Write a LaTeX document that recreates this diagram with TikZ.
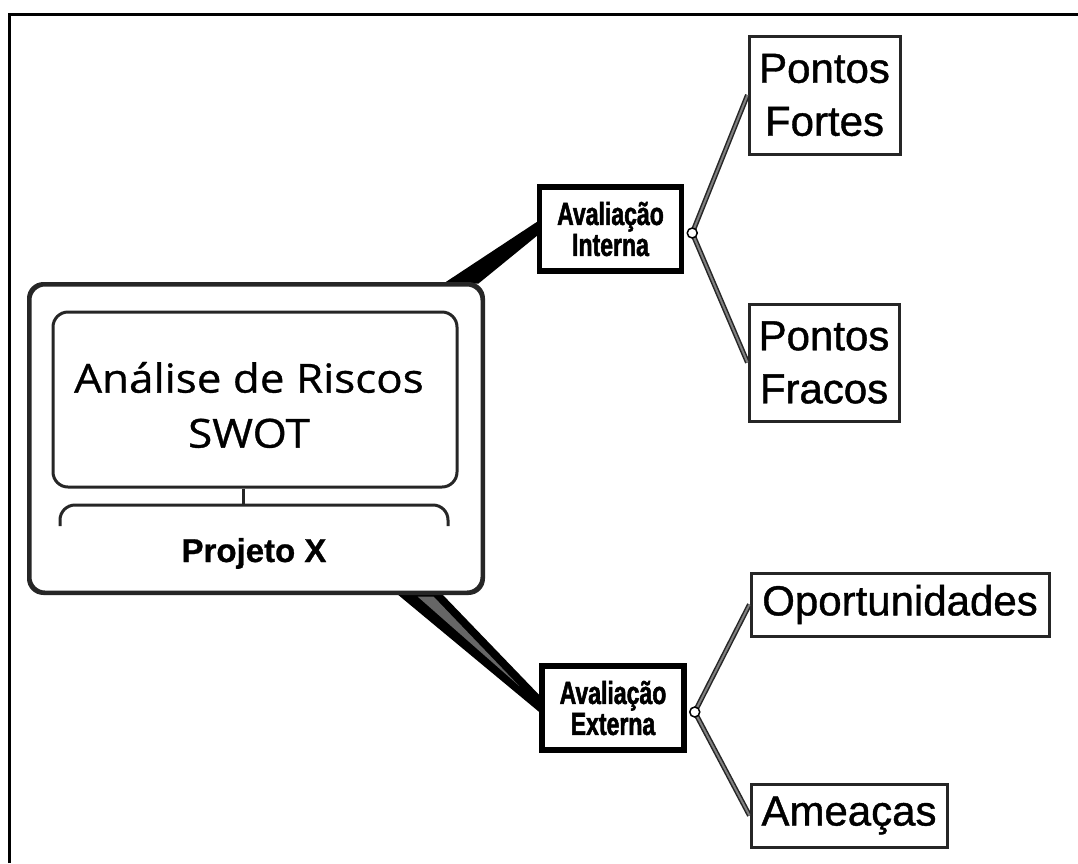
\documentclass[tikz,border=0pt]{standalone}
\usepackage{fontspec}
\setmainfont{Liberation Sans}
\newfontfamily\titlefont[FakeStretch=1.1,FakeBold=0.8]{Open Sans}
\newfontfamily\leaffont[FakeBold=1]{Liberation Sans}
\newfontfamily\projfont[FakeBold=0.8]{Liberation Sans}
\newfontfamily\narrowfont[FakeStretch=0.72,FakeBold=1.6]{Liberation Sans}
\usetikzlibrary{calc}
\begin{document}
\begin{tikzpicture}[x=1pt,y=-1pt,
  leaf/.style={draw=black!85,line width=3pt,fill=white,inner sep=0pt,align=center,
    font=\leaffont\fontsize{42}{53}\selectfont},
  evalbox/.style={draw=black,line width=5.5pt,fill=white,inner sep=0pt,align=center,
    minimum width=142pt,minimum height=84pt,
    font=\narrowfont\bfseries\fontsize{32}{31}\selectfont},
  roundbox/.style={draw=black!85,line width=3pt,rounded corners=15pt,fill=white,inner sep=0pt},
  wedge/.style={fill=black},
  twigout/.style={draw=black!85,line width=5pt},
  twigin/.style={draw=black!50,line width=2pt},
  joint/.style={circle,draw=black,line width=1.5pt,fill=white,inner sep=0pt,minimum size=10pt}
]
\useasboundingbox (0,0) rectangle (1078,863);
\fill[white] (0,0) rectangle (1078,863);
% frame
\draw[line width=3pt] (9,863) -- (9,14) -- (1078,14);

% evaluation boxes
\node[evalbox] (ai) at (610.5,229) {Avaliação\\Interna};
\node[evalbox] (ae) at (613,708) {Avaliação\\Externa};

% main box
\node[roundbox,minimum width=452pt,minimum height=307pt] (main) at (256,438.5) {};

% wedges
\fill[wedge] ($(main.north east)+(-40,0)$) -- ($(ai.west)+(0,-7)$) -- ($(ai.west)+(0,7)$) -- ($(main.north east)+(-5,0)$) -- cycle;
\fill[wedge] ($(main.south east)+(-87,0)$) -- ($(main.south east)+(-42,0)$) -- ($(ae.west)+(0,-13)$) -- ($(ae.west)+(0,4)$) -- cycle;
\fill[black!60] ($(main.south east)+(-66,3)$) -- ($(main.south east)+(-50,3)$) -- ($(ae.west)+(-20,-22)$) -- cycle;
\draw[draw=black!85,line width=3pt,rounded corners=15pt] (main.south west) rectangle (main.north east);

% inner title box
\node[roundbox,minimum width=404pt,minimum height=175pt] (title) at (255,399.5) {};
\node[font=\titlefont\fontsize{40}{55}\selectfont,align=center,inner sep=0pt] (ttext) at (249,405) {Análise de Riscos\\SWOT};

% bracket
\coordinate (brk) at (243,505);
\draw[draw=black!85,line width=3pt] (title.south -| brk) -- (brk);
\draw[draw=black!85,line width=3pt,rounded corners=15pt] (60,526) -- (60,505) -- (448,505) -- (448,526);
\node[font=\projfont\bfseries\fontsize{33}{33}\selectfont,inner sep=0pt,anchor=base] (proj) at (254,562) {Projeto X};

% leaf boxes
\node[leaf,minimum width=151pt,minimum height=118pt] (pf) at (824.5,95) {Pontos\\Fortes};
\node[leaf,minimum width=150pt,minimum height=117pt] (pfr) at (824,362.5) {Pontos\\Fracos};
\node[leaf,minimum width=298pt,minimum height=63pt] (op) at (900,604.5) {Oportunidades};
\node[leaf,minimum width=196pt,minimum height=63pt] (am) at (849,815.5) {Ameaças};

% joints and twigs
\coordinate (ji) at ($(ai.east)+(8,4)$);
\coordinate (je) at ($(ae.east)+(8,4)$);
\foreach \s in {twigout,twigin}{
  \draw[\s] (ji) -- (pf.west);
  \draw[\s] (ji) -- (pfr.west);
  \draw[\s] (je) -- (op.west);
  \draw[\s] (je) -- (am.west);
}
\node[joint] (cji) at (ji) {};
\node[joint] (cje) at (je) {};
\end{tikzpicture}
\end{document}
